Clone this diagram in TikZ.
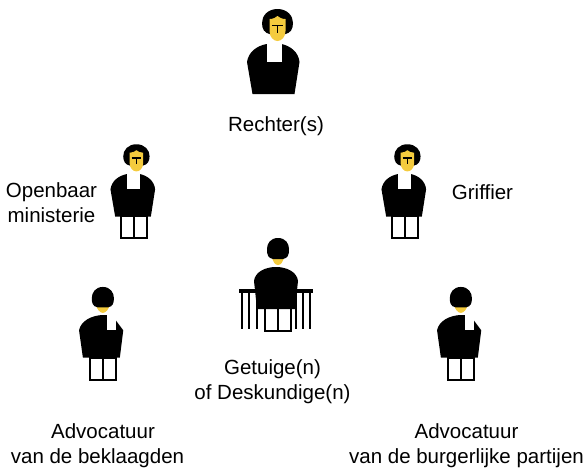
\documentclass[tikz,border=0pt]{standalone}
\usepackage{fontspec}
\setmainfont{Liberation Sans}
\definecolor{skin}{HTML}{F4CB3E}
\tikzset{
  x=1pt,y=-1pt,
  lbl/.style={align=center,inner sep=0pt,font=\fontsize{20.5}{25}\selectfont},
  pics/robed/.style={code={
    % body
    \fill[black] (-7,0) .. controls (-17,2) and (-25,8) .. (-26.5,18) -- (-21,50) -- (21,50) -- (26,18) .. controls (25,8) and (17,2) .. (8,0) -- cycle;
    % collar
    \fill[white] (-6.5,0) rectangle (8.5,18);
    % hair
    \fill[black] (4,-35) .. controls (-6,-35) and (-11.5,-28) .. (-11.5,-21) .. controls (-11.5,-15) and (-9,-11) .. (-4,-10) -- (12,-10) .. controls (17,-11) and (19.5,-15) .. (19.5,-21) .. controls (19.5,-28) and (14,-35) .. (4,-35) -- cycle;
    % face
    \fill[skin] (-4,-25) .. controls (0,-25) and (2,-26.5) .. (4,-28) .. controls (6,-26.5) and (8,-25) .. (12,-25) -- (12,-13) .. controls (12,-7) and (8,-3) .. (4,-3) .. controls (0,-3) and (-4,-7) .. (-4,-13) -- cycle;
    % brow and nose
    \draw[black,line width=1.8pt] (-1.5,-18.5) -- (9.5,-18.5) (4,-18.5) -- (4,-11.5);
  }},
  pics/turned/.style={code={
    % body
    \fill[black] (2,0) .. controls (-12,0) and (-25,7) .. (-27,18) -- (-22.5,50) -- (21,50) -- (25,18) -- (16,6) -- (16,0) -- cycle;
    \fill[white] (6,0) rectangle (16,18);
    % chin
    \fill[skin] (-8,-14) .. controls (-6,-6) and (-2,-2.5) .. (1,-2.5) .. controls (4,-2.5) and (8,-6) .. (10,-14) -- cycle;
    % head
    \fill[black] (1,-33) .. controls (-8,-33) and (-12,-26) .. (-12,-20) .. controls (-12,-14) and (-11,-10) .. (-5,-9) -- (7,-9) .. controls (13,-10) and (14,-14) .. (14,-20) .. controls (14,-26) and (10,-33) .. (1,-33) -- cycle;
  }},
  pics/pair/.style={code={
    \draw[black,line width=2pt,fill=white] (-13,0) rectangle (13,22);
    \draw[black,line width=2pt] (0,0) -- (0,22);
  }}
}
\begin{document}
\begin{tikzpicture}
\useasboundingbox (0,0) rectangle (584,467);
% judge
\pic at (273.5,44) {robed};
% prosecutor
\pic at (134,216) {pair};
\pic[scale=.85] at (133,174) {robed};
% clerk
\pic at (405,216) {pair};
\pic[scale=.85] at (404,174) {robed};
% advocates
\pic at (103,358) {pair};
\pic[scale=.85] at (102,315) {turned};
\pic at (461,358) {pair};
\pic[scale=.85] at (460,315) {turned};
% witness
\foreach \tx in {242,249,257,296,303,310}{\fill[black] (\tx-1,291) rectangle (\tx+1,329);}
\fill[black] (239,289) rectangle (313,293);
\draw[black,line width=1.5pt,fill=white] (265,305) rectangle (291,331);
\draw[black,line width=1.5pt] (278,305) -- (278,331);
\fill[black] (254,281) .. controls (255,272) and (265,267) .. (276,267) .. controls (287,267) and (297,272) .. (298,281) -- (295,309) -- (257,309) -- cycle;
\fill[skin] (271,255) .. controls (273,262) and (275,265) .. (278,265) .. controls (281,265) and (283,262) .. (285,255) -- cycle;
\fill[black] (278,238) .. controls (270,238) and (267,244) .. (267,249) .. controls (267,255) and (268,258) .. (273,259) -- (283,259) .. controls (288,258) and (289,255) .. (289,249) .. controls (289,244) and (286,238) .. (278,238) -- cycle;
% labels
\node[lbl] (rechter) at (276,126) {Rechter(s)};
\node[lbl] (om) at (51.5,203) {Openbaar\\ministerie};
\node[lbl] (griffier) at (482.5,192.5) {Griffier};
\node[lbl] (getuige) at (272.5,382) {Getuige(n)\\of Deskundige(n)};
\node[lbl] (advb) at (103,446) {Advocatuur\\van de beklaagden\hspace*{11pt}};
\node[lbl] (advp) at (466.5,446) {Advocatuur\\van de burgerlijke partijen};
\end{tikzpicture}
\end{document}
